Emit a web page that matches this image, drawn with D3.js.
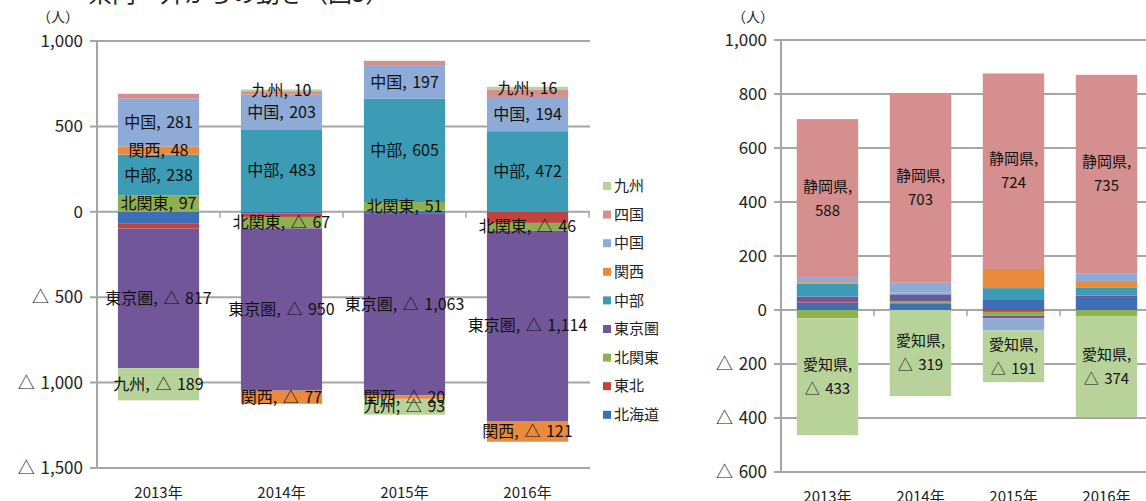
<!DOCTYPE html>
<html>
<head>
<meta charset="utf-8">
<script src="https://cdn.jsdelivr.net/npm/d3@7"></script>
<style>
  body { margin: 0; background: #fff; }
  svg { font-family: "Noto Sans CJK JP", "Noto Sans", sans-serif; }
</style>
</head>
<body>
<svg id="chart" width="1146" height="501"></svg>
<script>
const years = ["2013年", "2014年", "2015年", "2016年"];

// left chart: net movement by block (people, negative = △)
const blocks = ["北海道", "東北", "北関東", "東京圏", "中部", "関西", "中国", "四国", "九州"];
const hokkaido = [-70, -10, -12, 0];
const tohoku = [-28, -20, 6, -65];
const kitakanto = [97, -67, 51, -46];
const tokyoken = [-817, -950, -1063, -1114];
const chubu = [238, 483, 605, 472];
const kansai = [48, -77, -20, -121];
const chugoku = [281, 203, 197, 194];
const shikoku = [27, 20, 25, 50];
const kyushu = [-189, 10, -93, 16];
const blockValues = [hokkaido, tohoku, kitakanto, tokyoken, chubu, kansai, chugoku, shikoku, kyushu];
const blockNoLabel = ["北海道", "東北", "四国"];
const leftTicks = [1000, 500, 0, -500, -1000, -1500];

// right chart: 中部 broken down by prefecture
const prefs = ["新潟県", "富山県", "石川県", "福井県", "山梨県", "長野県", "岐阜県", "静岡県", "愛知県"];
const niigata = [27, 25, 40, 48];
const toyama = [3, 0, -7, 0];
const ishikawa = [-31, 8, -14, -22];
const fukui = [20, 24, -10, 5];
const yamanashi = [47, 4, 41, 31];
const nagano = [6, 3, 71, 23];
const gifu = [16, 37, -45, 29];
const shizuoka = [588, 703, 724, 735];
const aichi = [-433, -319, -191, -374];
const prefValues = [niigata, toyama, ishikawa, fukui, yamanashi, nagano, gifu, shizuoka, aichi];
const prefLabeled = ["静岡県", "愛知県"];
const rightTicks = [1000, 800, 600, 400, 200, 0, -200, -400, -600];

const colors = ["#3d6fb6", "#c0433f", "#8fb04e", "#71579a", "#3d9cb5", "#ea8a3c", "#8eabd8", "#d58f8e", "#b8d39a"];
const GRID = "#a6a6a6";

const svg = d3.select("#chart");
const fmtNum = d3.format(",");
const fmt = v => v < 0 ? "△ " + fmtNum(-v) : fmtNum(v);

// cut-off title at the very top
svg.append("text")
  .attr("x", 88).attr("y", 2)
  .style("font-size", "24px")
  .attr("fill", "#222")
  .text("県内・外からの動き（図5）");

function drawPanel(opt) {
  const rows = years.map((y, i) => {
    const r = {year: y};
    opt.names.forEach((n, k) => { r[n] = opt.values[k][i]; });
    return r;
  });

  const stacked = d3.stack()
    .keys(opt.names)
    .offset(d3.stackOffsetDiverging)(rows);

  const x = d3.scaleBand()
    .domain(years)
    .range([opt.x0, opt.x1])
    .paddingInner(0.34)
    .paddingOuter(0.17);

  const y = d3.scaleLinear()
    .domain(opt.yDomain)
    .range(opt.yRange);

  const g = svg.append("g");

  // grid lines + left ticks
  g.selectAll(".grid")
    .data(opt.ticks)
    .join("line")
    .attr("x1", opt.x0 - 7)
    .attr("x2", opt.gridEnd)
    .attr("y1", d => y(d))
    .attr("y2", d => y(d))
    .attr("stroke", GRID)
    .attr("stroke-width", 2);

  g.append("line")
    .attr("x1", opt.x0).attr("x2", opt.x0)
    .attr("y1", y(opt.yDomain[1])).attr("y2", y(opt.yDomain[0]))
    .attr("stroke", GRID)
    .attr("stroke-width", 2);

  // category ticks on the zero line
  g.selectAll(".ctick")
    .data(d3.range(1, years.length + 1))
    .join("line")
    .attr("x1", k => opt.x0 + x.step() * k)
    .attr("x2", k => opt.x0 + x.step() * k)
    .attr("y1", y(0))
    .attr("y2", y(0) + 6)
    .attr("stroke", GRID)
    .attr("stroke-width", 1.5);

  // tick labels
  g.selectAll(".ylab")
    .data(opt.ticks)
    .join("text")
    .attr("x", opt.x0 - 14)
    .attr("y", d => y(d))
    .attr("dy", "0.35em")
    .attr("text-anchor", "end")
    .style("font-size", "17px")
    .style("word-spacing", "2px")
    .attr("fill", "#222")
    .text(d => fmt(d));

  g.append("text")
    .attr("x", opt.unitX)
    .attr("y", 17)
    .attr("dy", "0.35em")
    .attr("text-anchor", "middle")
    .style("font-size", "14px")
    .attr("fill", "#222")
    .text("（人）");

  g.selectAll(".xlab")
    .data(years)
    .join("text")
    .attr("x", d => x(d) + x.bandwidth() / 2)
    .attr("y", opt.xLabelY)
    .attr("dy", "0.35em")
    .attr("text-anchor", "middle")
    .style("font-size", "15px")
    .attr("fill", "#222")
    .text(d => d);

  // stacked bars
  const layers = g.selectAll(".layer")
    .data(stacked)
    .join("g")
    .attr("fill", (d, i) => colors[i]);

  layers.selectAll("rect")
    .data(d => d)
    .join("rect")
    .attr("x", d => x(d.data.year))
    .attr("width", x.bandwidth())
    .attr("y", d => y(Math.max(d[0], d[1])))
    .attr("height", d => Math.abs(y(d[0]) - y(d[1])));

  // data labels
  const labels = [];
  stacked.forEach(s => {
    if (!opt.showLabel(s.key)) return;
    s.forEach(d => {
      const v = d.data[s.key];
      if (v === 0) return;
      labels.push({name: s.key, v: v, cx: x(d.data.year) + x.bandwidth() / 2, cy: y((d[0] + d[1]) / 2)});
    });
  });

  const lab = g.selectAll(".dlab")
    .data(labels)
    .join("text")
    .attr("x", d => d.cx)
    .attr("y", d => d.cy)
    .attr("text-anchor", "middle")
    .style("font-size", opt.labelSize)
    .style("word-spacing", "2px")
    .attr("fill", "#111");

  if (opt.twoLine) {
    lab.append("tspan").attr("x", d => d.cx).attr("dy", "-0.45em").text(d => d.name + ",");
    lab.append("tspan").attr("x", d => d.cx).attr("dy", "1.6em").text(d => fmt(d.v));
  } else {
    lab.attr("dy", "0.35em").text(d => d.name + ", " + fmt(d.v));
  }
}

drawPanel({
  names: blocks, values: blockValues,
  x0: 97, x1: 589, gridEnd: 590,
  yDomain: [-1500, 1000], yRange: [468, 41],
  ticks: leftTicks, unitX: 58, xLabelY: 493,
  labelSize: "16px", twoLine: false,
  showLabel: n => !blockNoLabel.includes(n)
});

drawPanel({
  names: prefs, values: prefValues,
  x0: 781, x1: 1153, gridEnd: 1146,
  yDomain: [-600, 1000], yRange: [472, 40],
  ticks: rightTicks, unitX: 753, xLabelY: 497,
  labelSize: "15px", twoLine: true,
  showLabel: n => prefLabeled.includes(n)
});

// legend for the left chart (reverse series order)
const legend = svg.append("g");
const legendItems = blocks.map((n, i) => ({name: n, color: colors[i]})).reverse();

legend.selectAll("rect")
  .data(legendItems)
  .join("rect")
  .attr("x", 603)
  .attr("y", (d, i) => 186 + i * 28.6 - 4)
  .attr("width", 8)
  .attr("height", 8)
  .attr("fill", d => d.color);

legend.selectAll("text")
  .data(legendItems)
  .join("text")
  .attr("x", 614)
  .attr("y", (d, i) => 186 + i * 28.6)
  .attr("dy", "0.35em")
  .style("font-size", "15px")
  .attr("fill", "#222")
  .text(d => d.name);
</script>
</body>
</html>
